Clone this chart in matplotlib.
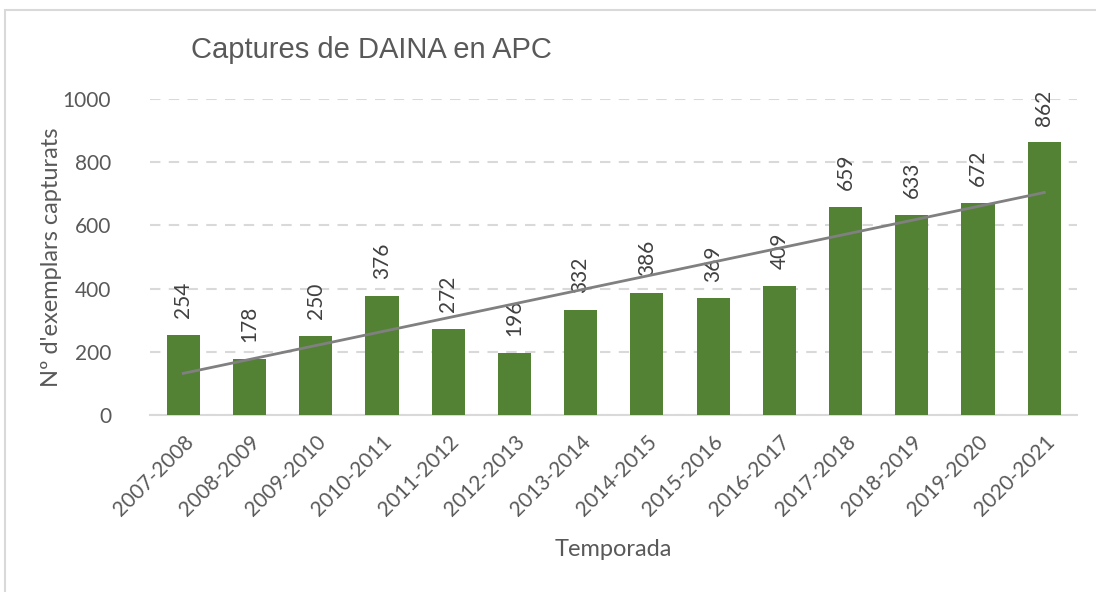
import matplotlib.pyplot as plt
import numpy as np

seasons = ['2007-2008', '2008-2009', '2009-2010', '2010-2011', '2011-2012',
           '2012-2013', '2013-2014', '2014-2015', '2015-2016', '2016-2017',
           '2017-2018', '2018-2019', '2019-2020', '2020-2021']
captures = [254, 178, 250, 376, 272, 196, 332, 386, 369, 409, 659, 633, 672, 862]

green = '#548235'
text_col = '#595959'
grid_col = '#d9d9d9'

plt.rcParams['font.family'] = ['Lato', 'DejaVu Sans']

fig = plt.figure(figsize=(10.96, 5.92), dpi=100)
ax = fig.add_axes([0.137, 0.299, 0.846, 0.534])

x = np.arange(len(seasons))
ax.bar(x, captures, width=0.5, color=green, zorder=3)

# linear trend line (like Excel)
coef = np.polyfit(x, captures, 1)
ax.plot(x, np.polyval(coef, x), color='#808080', lw=2, zorder=4)

for xi, v in zip(x, captures):
    ax.annotate(str(v), (xi, v), xytext=(0, 12), textcoords='offset points',
                rotation=90, ha='center', va='bottom', fontsize=15,
                color='#404040', annotation_clip=False)

ax.set_xlim(-0.5, len(seasons) - 0.5)
ax.set_ylim(0, 1000)
ax.set_yticks([0, 200, 400, 600, 800, 1000])
ax.set_xticks(x)
ax.set_xticklabels(seasons, rotation=45, ha='right', rotation_mode='anchor')
ax.tick_params(axis='both', length=0, labelsize=15, labelcolor=text_col)
ax.tick_params(axis='y', pad=28)
ax.tick_params(axis='x', pad=12)

ax.yaxis.grid(True, color=grid_col, lw=1.5, ls=(0, (5, 4)), zorder=0)
for s in ['top', 'right', 'left']:
    ax.spines[s].set_visible(False)
ax.spines['bottom'].set_color(grid_col)
ax.spines['bottom'].set_linewidth(1.5)

ax.set_ylabel("Nº d'exemplars capturats", fontsize=17, color=text_col)
ax.yaxis.set_label_coords(-0.095, 0.5)
ax.set_xlabel('Temporada', fontsize=17, color=text_col, labelpad=14)

fig.text(0.174, 0.915, 'Captures de DAINA en APC', fontsize=21, color=text_col,
         family='Liberation Sans', va='center')

# figure border
fig.patches.append(plt.Rectangle((0.005, -0.02), 1.1, 1.003, transform=fig.transFigure,
                                 fill=False, edgecolor='#d9d9d9', lw=1.5))

fig.savefig('out.png', dpi=100)
